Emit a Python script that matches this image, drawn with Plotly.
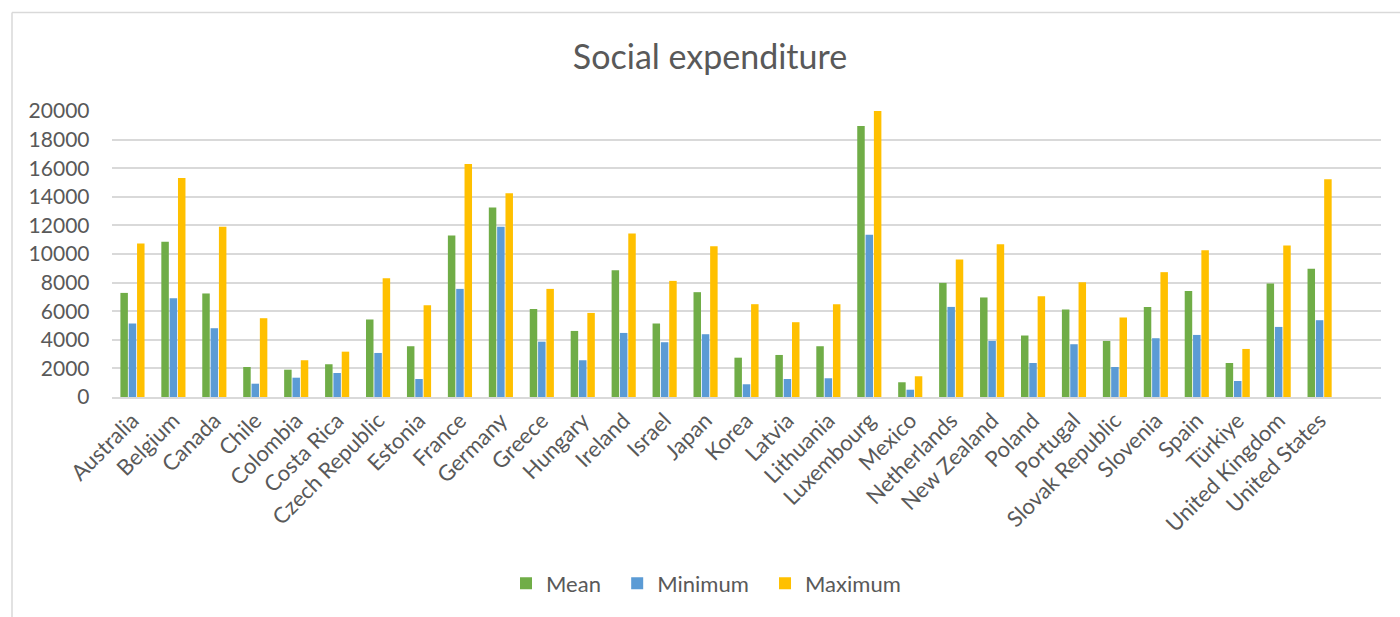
import plotly.graph_objects as go

countries = ["Australia", "Belgium", "Canada", "Chile", "Colombia", "Costa Rica",
             "Czech Republic", "Estonia", "France", "Germany", "Greece", "Hungary",
             "Ireland", "Israel", "Japan", "Korea", "Latvia", "Lithuania", "Luxembourg",
             "Mexico", "Netherlands", "New Zealand", "Poland", "Portugal",
             "Slovak Republic", "Slovenia", "Spain", "Türkiye", "United Kingdom",
             "United States"]

mean_vals = [7280, 10850, 7240, 2100, 1910, 2290, 5420, 3550, 11300, 13260, 6160, 4620,
             8870, 5140, 7330, 2750, 2940, 3550, 18950, 1030, 7980, 6960, 4300, 6120,
             3920, 6300, 7420, 2380, 7940, 8960]
min_vals = [5140, 6910, 4810, 930, 1350, 1680, 3080, 1260, 7560, 11900, 3870, 2570,
            4480, 3830, 4390, 890, 1260, 1310, 11340, 510, 6300, 3920, 2380, 3690,
            2100, 4110, 4340, 1120, 4900, 5370]
max_vals = [10740, 15310, 11900, 5510, 2570, 3170, 8310, 6420, 16290, 14240, 7560, 5880,
            11440, 8120, 10550, 6490, 5230, 6490, 20070, 1450, 9620, 10690, 7050, 8030,
            5560, 8730, 10270, 3360, 10600, 15220]

series = [("Mean", mean_vals, "#70AD47"),
          ("Minimum", min_vals, "#5B9BD5"),
          ("Maximum", max_vals, "#FFC000")]

FONT = "Lato"
TXT = "#595959"
PAD = "\u00a0\u00a0"

fig = go.Figure()
for name, vals, col in series:
    fig.add_trace(go.Bar(x=countries, y=vals, name=name + PAD,
                         marker=dict(color=col, line=dict(width=0))))

fig.update_layout(
    width=1400, height=617,
    margin=dict(l=112, r=19, t=111, b=220),
    paper_bgcolor="white", plot_bgcolor="white",
    barmode="group", bargap=0.39, bargroupgap=0.1,
    font=dict(family=FONT, color=TXT, size=20),
    title=dict(text="Social expenditure", x=710 / 1400, xref="container", xanchor="center",
               y=1 - 57 / 617, yref="container", yanchor="middle",
               font=dict(family=FONT, size=34, color=TXT)),
    showlegend=True,
    legend=dict(orientation="h", x=(712 - 112) / 1269, xref="paper", xanchor="center",
                y=-0.652, yanchor="middle", font=dict(family=FONT, size=22, color=TXT),
                itemwidth=30, traceorder="normal"),
    xaxis=dict(type="category", range=[-0.5, 30.5], tickangle=-45,
               showgrid=False, showline=True, linecolor="#D9D9D9", linewidth=2,
               ticks="", tickfont=dict(family=FONT, size=22, color=TXT)),
    yaxis=dict(range=[0, 20000], dtick=2000, showgrid=True, gridcolor="#D9D9D9",
               gridwidth=2, zeroline=False, showline=False, ticks="",
               tickformat="d", ticksuffix="\u00a0\u00a0\u00a0\u00a0",
               tickfont=dict(family=FONT, size=21, color=TXT)),
    shapes=[
        dict(type="line", xref="paper", yref="paper",
             x0=(12 - 112) / 1269, x1=(1400 - 112) / 1269,
             y0=(397 - 12.5) / 286, y1=(397 - 12.5) / 286,
             line=dict(color="#D9D9D9", width=1.5)),
        dict(type="line", xref="paper", yref="paper",
             x0=(12 - 112) / 1269, x1=(12 - 112) / 1269,
             y0=(397 - 12.5) / 286, y1=(397 - 617) / 286,
             line=dict(color="#D9D9D9", width=1.5)),
    ],
)

fig.write_html("out.html")
